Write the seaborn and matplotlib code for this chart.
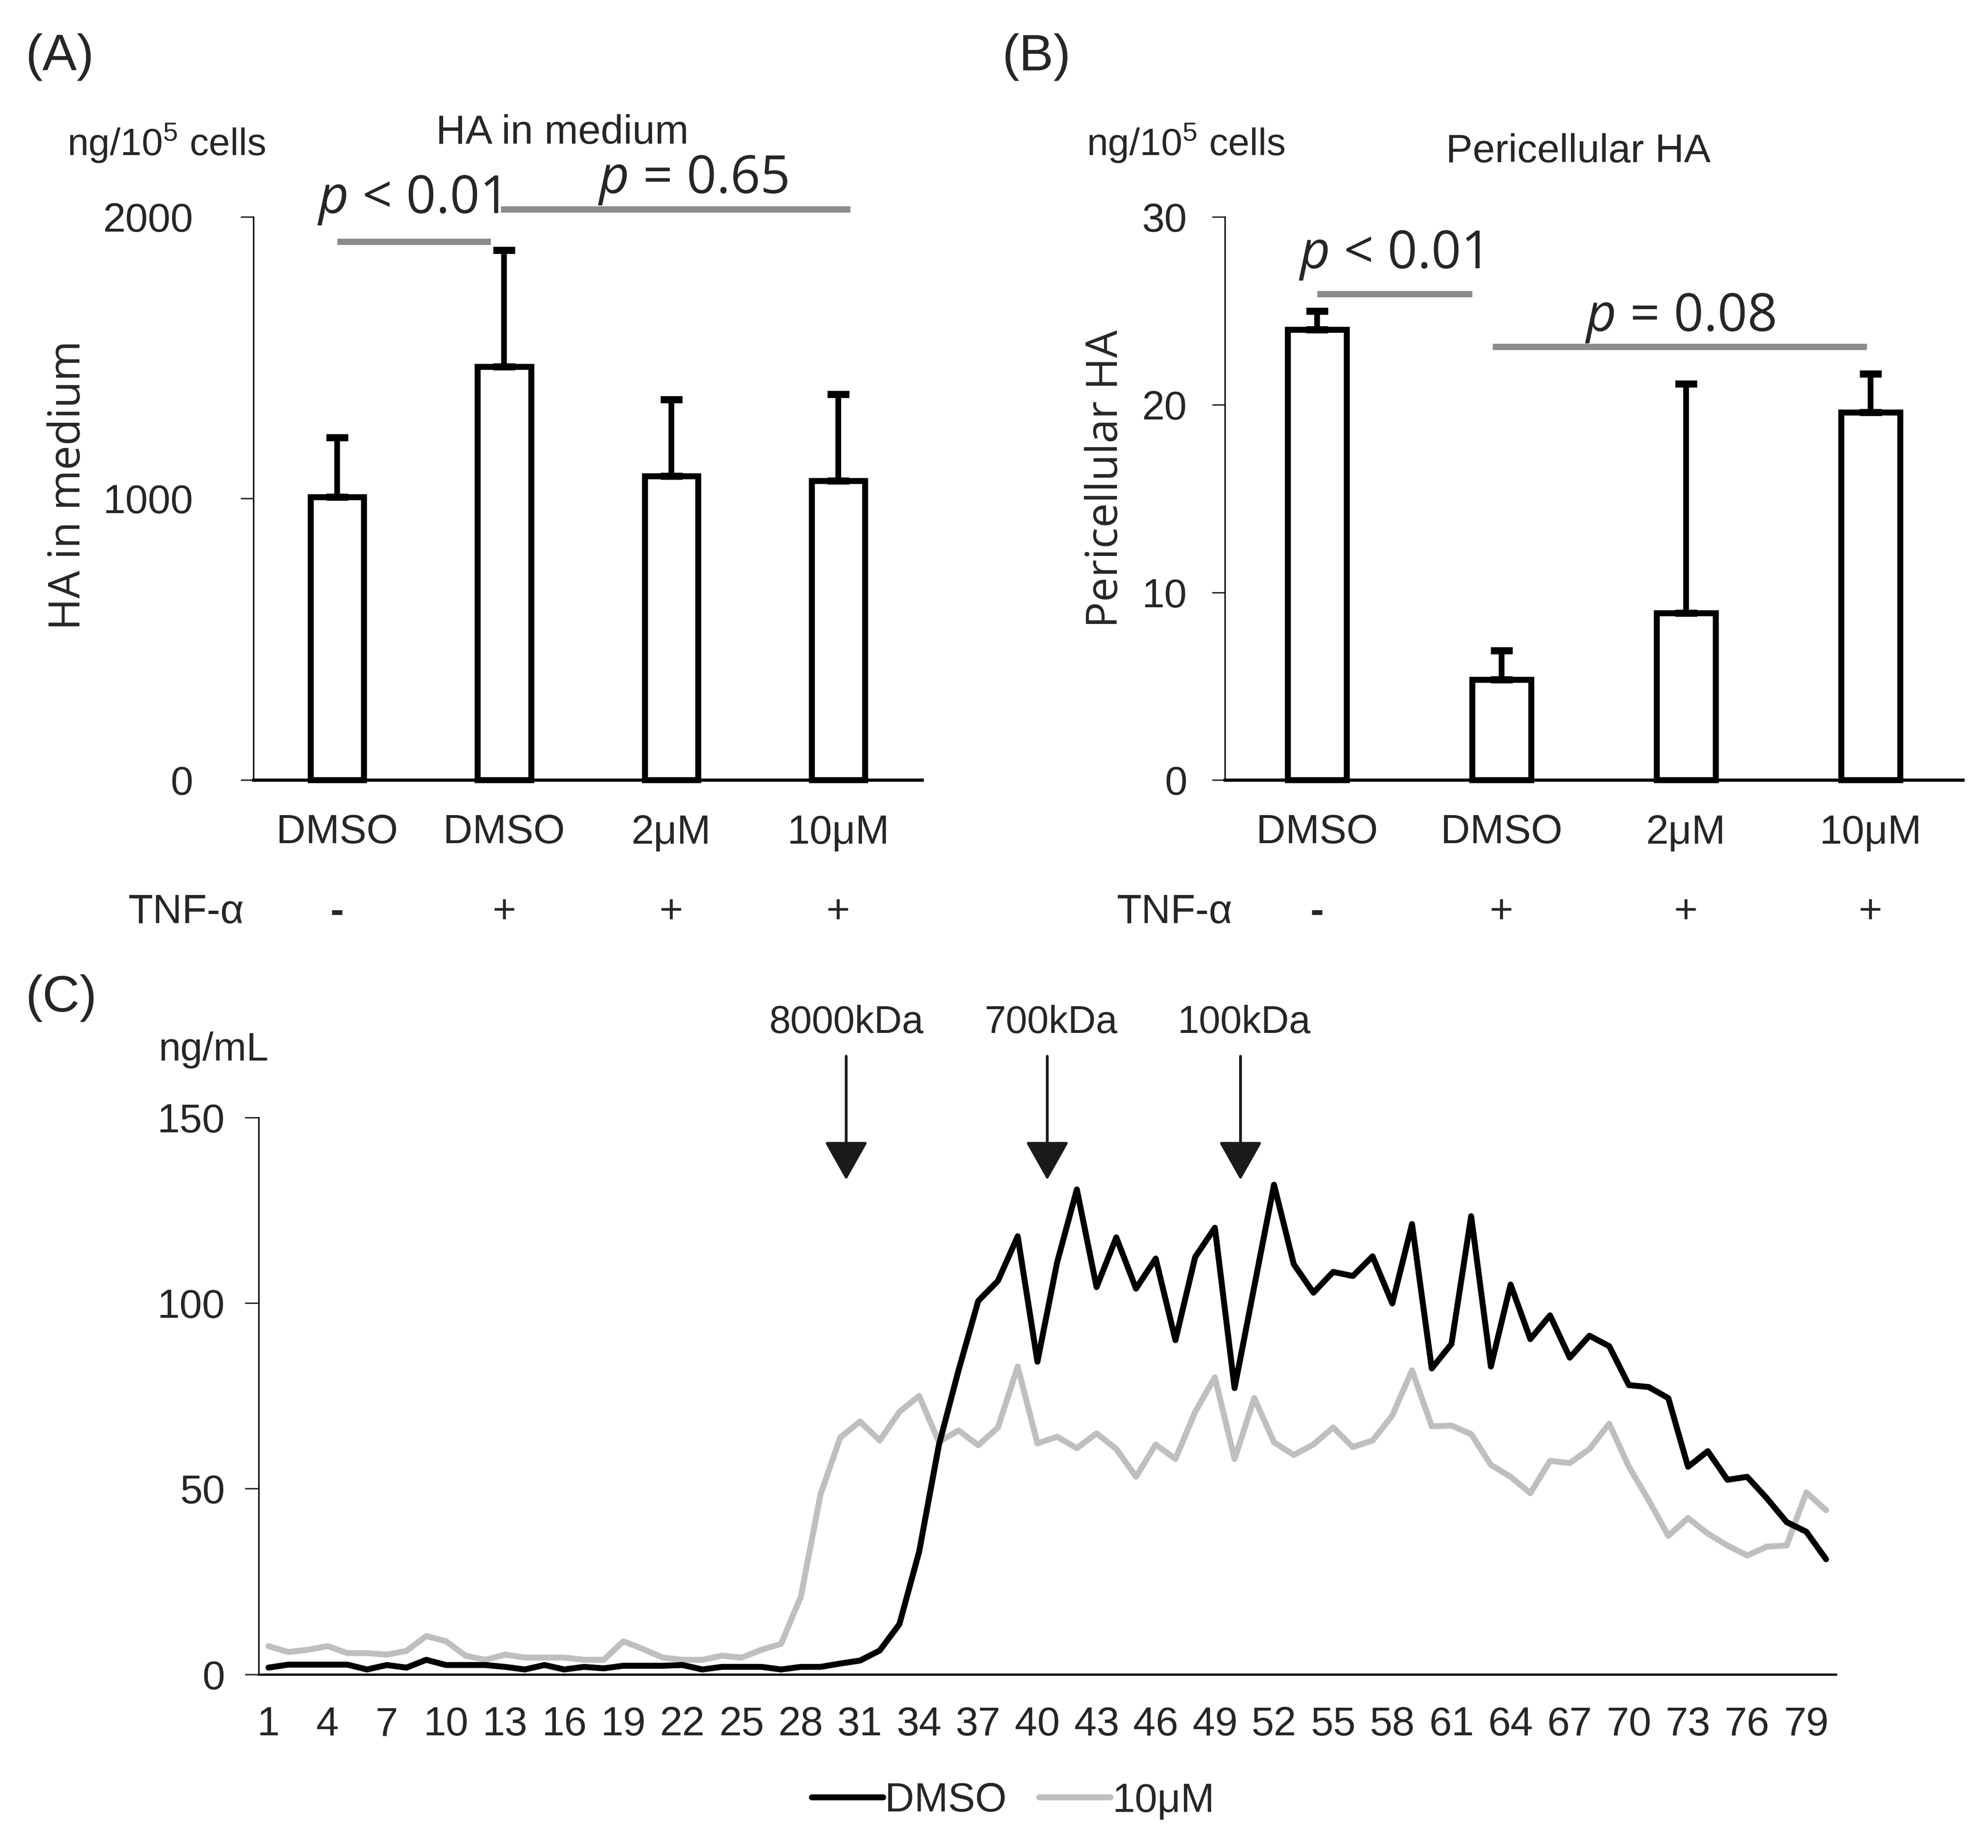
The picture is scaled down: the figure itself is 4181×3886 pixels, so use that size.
import numpy as np
import pandas as pd
import matplotlib
matplotlib.use("Agg")
import matplotlib.pyplot as plt
import matplotlib.transforms as mtransforms
from matplotlib.lines import Line2D
import seaborn as sns

# ---------------- data ----------------
groups = ["DMSO", "DMSO", "2μM", "10μM"]
tnf_signs = ["-", "+", "+", "+"]
medium_mean = [1005, 1468, 1080, 1063]
medium_err = [211, 414, 272, 308]
peri_mean = [24.0, 5.35, 8.9, 19.6]
peri_err = [1.0, 1.55, 12.2, 2.05]

fractions = list(range(1, 81))
dmso = [1.8, 2.6, 2.6, 2.6, 2.6, 1.3, 2.5, 1.8, 3.9, 2.5,
        2.5, 2.5, 2.0, 1.3, 2.5, 1.3, 2.0, 1.6, 2.3, 2.3,
        2.3, 2.5, 1.3, 2.0, 2.0, 2.0, 1.3, 2.0, 2.0, 2.9,
        3.7, 6.4, 13.5, 33.0, 61.7, 81.9, 100.6, 106.0, 118.0, 84.2,
        111.0, 130.6, 104.3, 117.7, 103.9, 112.0, 90.0, 112.4, 120.3, 77.1,
        104.5, 131.9, 110.5, 102.8, 108.4, 107.3, 112.6, 99.9, 121.3, 82.4,
        89.0, 123.4, 82.9, 105.0, 90.3, 96.7, 85.3, 91.2, 88.4, 77.9,
        77.4, 74.4, 55.9, 60.1, 52.4, 53.2, 47.4, 41.0, 38.4, 31.0]
uM10 = [7.6, 6.0, 6.6, 7.6, 5.7, 5.7, 5.3, 6.3, 10.3, 8.9,
        5.0, 3.9, 5.3, 4.5, 4.5, 4.5, 3.9, 3.9, 8.9, 6.8,
        4.5, 3.9, 3.9, 5.0, 4.5, 6.6, 8.2, 20.9, 48.5, 63.8,
        68.1, 63.0, 70.7, 75.0, 62.6, 65.7, 61.7, 66.5, 82.9, 62.2,
        64.0, 60.9, 64.9, 60.7, 53.2, 61.9, 58.0, 70.7, 80.0, 58.0,
        74.4, 62.5, 59.1, 61.9, 66.5, 61.2, 63.0, 69.7, 81.9, 66.8,
        67.0, 64.7, 56.4, 53.2, 48.8, 57.5, 56.9, 60.7, 67.5, 55.9,
        46.9, 37.3, 42.1, 37.9, 34.7, 32.0, 34.4, 34.7, 49.0, 44.2]

markers_kda = ["8000kDa", "700kDa", "100kDa"]
marker_frac = [30.3, 40.5, 50.3]

# ---------------- style ----------------
sns.set_style("white")
plt.rcParams["font.family"] = ["Liberation Sans", "DejaVu Sans"]
plt.rcParams["mathtext.fontset"] = "custom"
plt.rcParams["mathtext.it"] = "Open Sans:italic"
plt.rcParams["mathtext.rm"] = "Liberation Sans"
plt.rcParams["axes.edgecolor"] = "black"

W, H = 4181, 3886
fig = plt.figure(figsize=(W / 300, H / 300), dpi=300)
fig.patch.set_facecolor("white")

TICK_FS = 20.5
SIG_COLOR = "#8c8c8c"
OPEN = ["Open Sans", "DejaVu Sans"]


def bar_panel(rect, means, errs, ymax, yticks, ypad, ylabel, ylabel_xy, tnf_x):
    ax = fig.add_axes(rect)
    keys = [f"g{i}" for i in range(len(means))]
    df = pd.DataFrame({"cond": keys, "value": means})
    sns.barplot(data=df, x="cond", y="value", ax=ax, color="white",
                edgecolor="black", linewidth=3.0, width=0.32,
                errorbar=None, saturation=1)
    for p in ax.patches:
        p.set_clip_on(False)
    ax.errorbar(range(len(means)), means,
                yerr=[np.zeros(len(means)), errs], fmt="none",
                ecolor="black", elinewidth=2.9, capsize=5.5, capthick=3.6,
                zorder=1)
    ax.set_xlim(-0.5, len(means) - 0.5)
    ax.set_ylim(0, ymax)
    ax.set_yticks(yticks)
    ax.set_yticklabels([str(t) for t in yticks], fontsize=TICK_FS)
    ax.set_xticks(range(len(means)))
    ax.set_xticklabels(groups, fontsize=TICK_FS)
    ax.set_xlabel("")
    ax.set_ylabel("")
    for s in ["top", "right"]:
        ax.spines[s].set_visible(False)
    ax.spines["left"].set_linewidth(0.7)
    ax.spines["bottom"].set_linewidth(1.6)
    ax.tick_params(axis="y", direction="out", length=6.5, width=0.7,
                   pad=ypad, left=True)
    ax.tick_params(axis="x", length=0, pad=17)
    trans = mtransforms.blended_transform_factory(ax.transData, ax.transAxes)
    for i, s in enumerate(tnf_signs):
        ax.text(i, -0.2356, s, transform=trans, ha="center", va="center",
                fontsize=TICK_FS, fontweight="bold" if s == "-" else "normal")
    ax.text(tnf_x, -0.2356, "TNF-α", transform=ax.transAxes, ha="right",
            va="center", fontsize=TICK_FS)
    fig.text(ylabel_xy[0], ylabel_xy[1], ylabel, rotation=90, ha="center",
             va="center", fontsize=22, family=OPEN)
    return ax


# Panel A
axA = bar_panel([0.1276, 0.5779, 0.3361, 0.3047], medium_mean, medium_err,
                2000, [0, 1000, 2000], 24, "HA in medium", (0.0345, 0.7375),
                -0.015)
axA.plot([0.0, 0.92], [1912, 1912], color=SIG_COLOR, lw=3.2,
         solid_capstyle="butt", clip_on=False)
axA.plot([0.98, 3.07], [2027, 2027], color=SIG_COLOR, lw=3.2,
         solid_capstyle="butt", clip_on=False)
axA.text(-0.12, 2060, r"$p$ < 0.01", fontsize=26.5, ha="left", va="center",
         family=OPEN, clip_on=False)
axA.text(1.56, 2130, r"$p$ = 0.65", fontsize=26.5, ha="left", va="center",
         family=OPEN, clip_on=False)

# Panel B
axB = bar_panel([0.6161, 0.5779, 0.3712, 0.3047], peri_mean, peri_err,
                30, [0, 10, 20, 30], 12.5, "Pericellular HA", (0.5565, 0.741),
                0.010)
axB.plot([0.0, 0.84], [25.9, 25.9], color=SIG_COLOR, lw=3.2,
         solid_capstyle="butt", clip_on=False)
axB.plot([0.95, 2.98], [23.1, 23.1], color=SIG_COLOR, lw=3.2,
         solid_capstyle="butt", clip_on=False)
axB.text(-0.10, 27.95, r"$p$ < 0.01", fontsize=26.5, ha="left", va="center",
         family=OPEN, clip_on=False)
axB.text(1.45, 24.6, r"$p$ = 0.08", fontsize=26.5, ha="left", va="center",
         family=OPEN, clip_on=False)

# Panel C
axC = fig.add_axes([0.1301, 0.0940, 0.7934, 0.3013])
dfC = pd.DataFrame({
    "fraction": fractions + fractions,
    "value": uM10 + dmso,
    "treatment": ["10μM"] * len(fractions) + ["DMSO"] * len(fractions),
})
palette = {"DMSO": "black", "10μM": "#bfbfbf"}
sns.lineplot(data=dfC, x="fraction", y="value", hue="treatment",
             hue_order=["10μM", "DMSO"], palette=palette, linewidth=3.0,
             ax=axC, legend=False)
axC.set_xlim(0.5, 80.5)
axC.set_ylim(0, 150)
axC.set_yticks([0, 50, 100, 150])
axC.set_yticklabels(["0", "50", "100", "150"], fontsize=TICK_FS)
xt = fractions[::3]
axC.set_xticks(xt)
axC.set_xticklabels([str(v) for v in xt], fontsize=TICK_FS)
axC.set_xlabel("")
axC.set_ylabel("")
for s in ["top", "right"]:
    axC.spines[s].set_visible(False)
axC.spines["left"].set_linewidth(0.7)
axC.spines["bottom"].set_linewidth(1.1)
axC.tick_params(axis="y", direction="out", length=7, width=0.7, pad=10,
                left=True)
axC.tick_params(axis="x", length=0, pad=16)

for lab, fx in zip(markers_kda, marker_frac):
    axC.annotate("", xy=(fx, 133.2), xytext=(fx, 166.5),
                 arrowprops=dict(arrowstyle="-|>,head_length=0.85,head_width=0.48",
                                 mutation_scale=20, color="#1a1a1a", lw=1.4,
                                 shrinkA=0, shrinkB=0),
                 annotation_clip=False)
    axC.text(fx + (0.2 if lab != "8000kDa" else 0), 175.5, lab,
             ha="center", va="center", fontsize=19.5, clip_on=False)

handles = [Line2D([0], [0], color="black", lw=3.0),
           Line2D([0], [0], color="#bfbfbf", lw=3.0)]
fig.legend(handles, ["DMSO", "10μM"], loc="center",
           bbox_to_anchor=(0.5096, 0.0254), ncol=2, frameon=False,
           fontsize=TICK_FS, handlelength=1.75, handletextpad=0.05,
           columnspacing=0.8)

# Figure-level labels
fig.text(0.0128, 0.969, "(A)", fontsize=26, ha="left", va="center")
fig.text(0.504, 0.969, "(B)", fontsize=26, ha="left", va="center")
fig.text(0.0128, 0.4598, "(C)", fontsize=26, ha="left", va="center")
fig.text(0.0338, 0.9224, r"ng/10$^{5}$ cells", fontsize=19.3, ha="left", va="center")
fig.text(0.5466, 0.9224, r"ng/10$^{5}$ cells", fontsize=19.3, ha="left", va="center")
fig.text(0.2828, 0.928, "HA in medium", fontsize=20.5, ha="center", va="center")
fig.text(0.794, 0.918, "Pericellular HA", fontsize=20.2, ha="center", va="center")
fig.text(0.0797, 0.4317, "ng/mL", fontsize=20, ha="left", va="center")

fig.savefig("out.png", dpi=300, facecolor="white")
